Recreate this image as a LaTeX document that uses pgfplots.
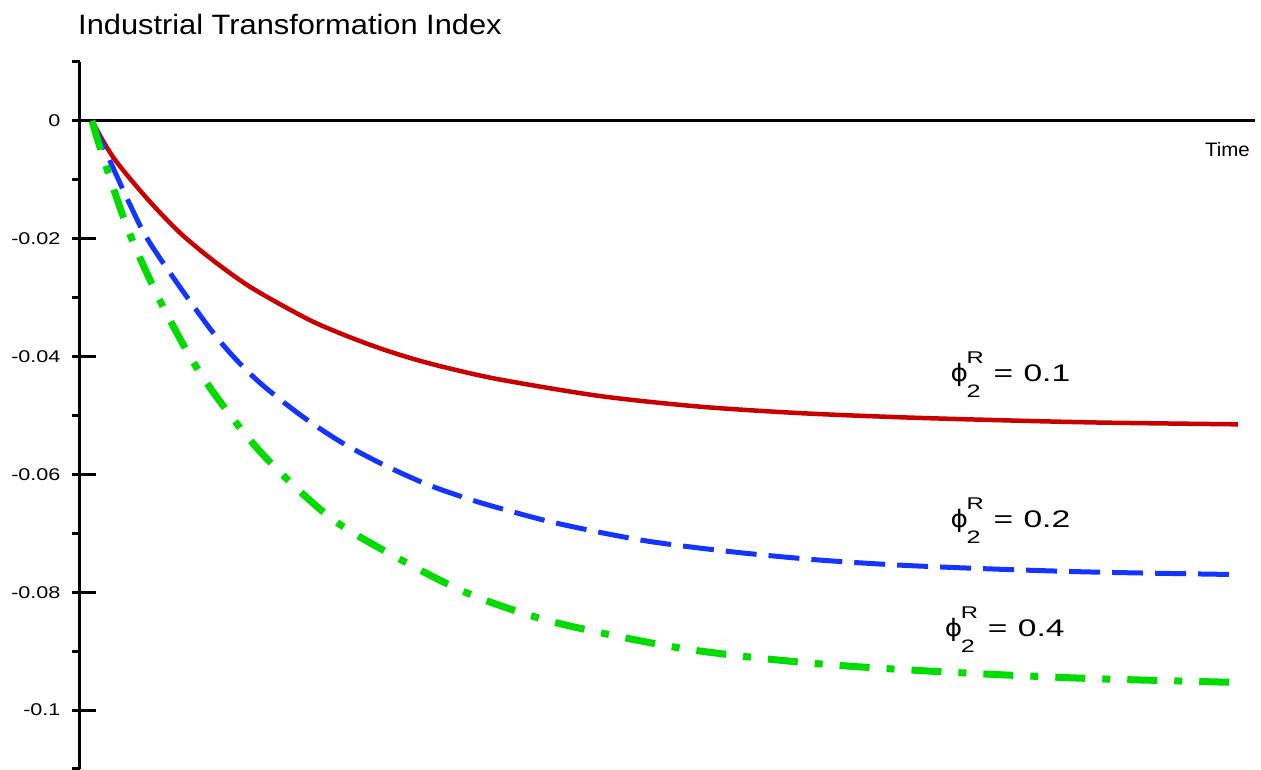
\documentclass[border=0pt]{standalone}
\usepackage{pgfplots}
\pgfplotsset{compat=1.18}
\usepackage{fontspec}
\setmainfont{Liberation Sans}
\newfontfamily\tickf[FakeStretch=1.27]{Liberation Sans}
\newfontfamily\titlef[FakeStretch=1.10]{Liberation Sans}
\newfontfamily\timef[FakeStretch=1.05]{Liberation Sans}
\newfontfamily\labf[FakeStretch=1.4]{Liberation Sans}
\newfontfamily\phif[FakeStretch=1.1]{DejaVu Sans}
\definecolor{cred}{RGB}{200,0,0}
\definecolor{cblue}{RGB}{20,52,255}
\definecolor{cgreen}{RGB}{0,220,0}
\newcommand{\philab}[1]{{\labf\fontsize{24}{24}\selectfont\makebox[16pt][l]{\phif ϕ}\makebox[27pt][l]{\rlap{\raisebox{18pt}{\fontsize{17}{17}\selectfont R}}\raisebox{-16pt}{\fontsize{18}{18}\selectfont 2}}\makebox[30pt][l]{=}#1}}
\begin{document}
\begin{tikzpicture}
\useasboundingbox (0,0) rectangle (1261pt,770pt);
\begin{axis}[
  at={(80pt,1pt)}, anchor=south west,
  scale only axis, width=1175pt, height=707pt,
  xmin=-1.047, xmax=101.48, ymin=-0.11, ymax=0.01,
  axis x line=middle, axis y line=left,
  axis line style={line width=3pt, -},
  every inner x axis line/.append style={-},
  every outer y axis line/.append style={-},
  hide obscured y ticks=false,
  xtick=\empty,
  ytick={0,-0.02,-0.04,-0.06,-0.08,-0.1},
  yticklabels={0,-0.02,-0.04,-0.06,-0.08,-0.1},
  minor ytick={0.01,-0.01,-0.03,-0.05,-0.07,-0.09,-0.11},
  tick align=center,
  major tick length=24pt, minor tick length=8pt,
  every major tick/.append style={xshift=4pt, line width=3pt, black},
  every minor tick/.append style={xshift=-4pt, line width=3pt, black},
  yticklabel style={font=\tickf\fontsize{17}{17}\selectfont, xshift=-4pt},
  clip=false,
]
\addplot[cred, line width=4.5pt, smooth] coordinates {
(0,0) (1.86,-0.0062) (4.77,-0.0131) (7.68,-0.0190) (10.58,-0.0237)
(13.5,-0.0278) (16.4,-0.0311) (19.31,-0.0341) (22.23,-0.0365)
(25.13,-0.0386) (28.04,-0.0404) (30.95,-0.0419) (35.6,-0.0439)
(44.33,-0.0467) (53.05,-0.0485) (61.78,-0.0496) (70.51,-0.0503)
(79.23,-0.0508) (87.96,-0.0512) (100,-0.0515)};
\addplot[cblue, line width=5pt, smooth, dash pattern=on 31pt off 12pt] coordinates {
(0,0) (3.32,-0.01424) (5.32,-0.02153) (10.56,-0.03593) (14.05,-0.04339)
(17.89,-0.04949) (21.64,-0.05441) (25.39,-0.05831) (29.23,-0.06169)
(32.98,-0.06424) (35.60,-0.06575) (40.58,-0.0683) (48.08,-0.0712)
(55.67,-0.0731) (63.26,-0.0745) (70.51,-0.0754) (79.23,-0.0761)
(87.96,-0.0766) (99.9,-0.0770)};
\addplot[cgreen, line width=7pt, smooth, dash pattern=on 30pt off 17pt on 8pt off 17pt] coordinates {
(0,0) (1.13,-0.00712) (3.32,-0.01932) (6.20,-0.03153) (9.69,-0.04356)
(14.66,-0.0561) (20.77,-0.06729) (26.88,-0.07441) (32.98,-0.08034)
(39.35,-0.08458) (45.81,-0.08746) (51.92,-0.08966) (58.29,-0.09119)
(64.40,-0.0923) (70.51,-0.0931) (79.23,-0.0940) (87.96,-0.0947)
(99.74,-0.0953)};
\node[anchor=base west, inner sep=0pt] at (axis cs:74.9,-0.04424) {\philab{0.1}};
\node[anchor=base west, inner sep=0pt] at (axis cs:74.9,-0.06898) {\philab{0.2}};
\node[anchor=base west, inner sep=0pt] at (axis cs:74.4,-0.08746) {\philab{0.4}};
\end{axis}
\node[anchor=base west, inner sep=0pt, font=\titlef\fontsize{28}{28}\selectfont] at (78pt,735pt) {Industrial Transformation Index};
\node[anchor=base east, inner sep=0pt, font=\timef\fontsize{19.5}{19.5}\selectfont] at (1250pt,613pt) {Time};
\end{tikzpicture}
\end{document}
